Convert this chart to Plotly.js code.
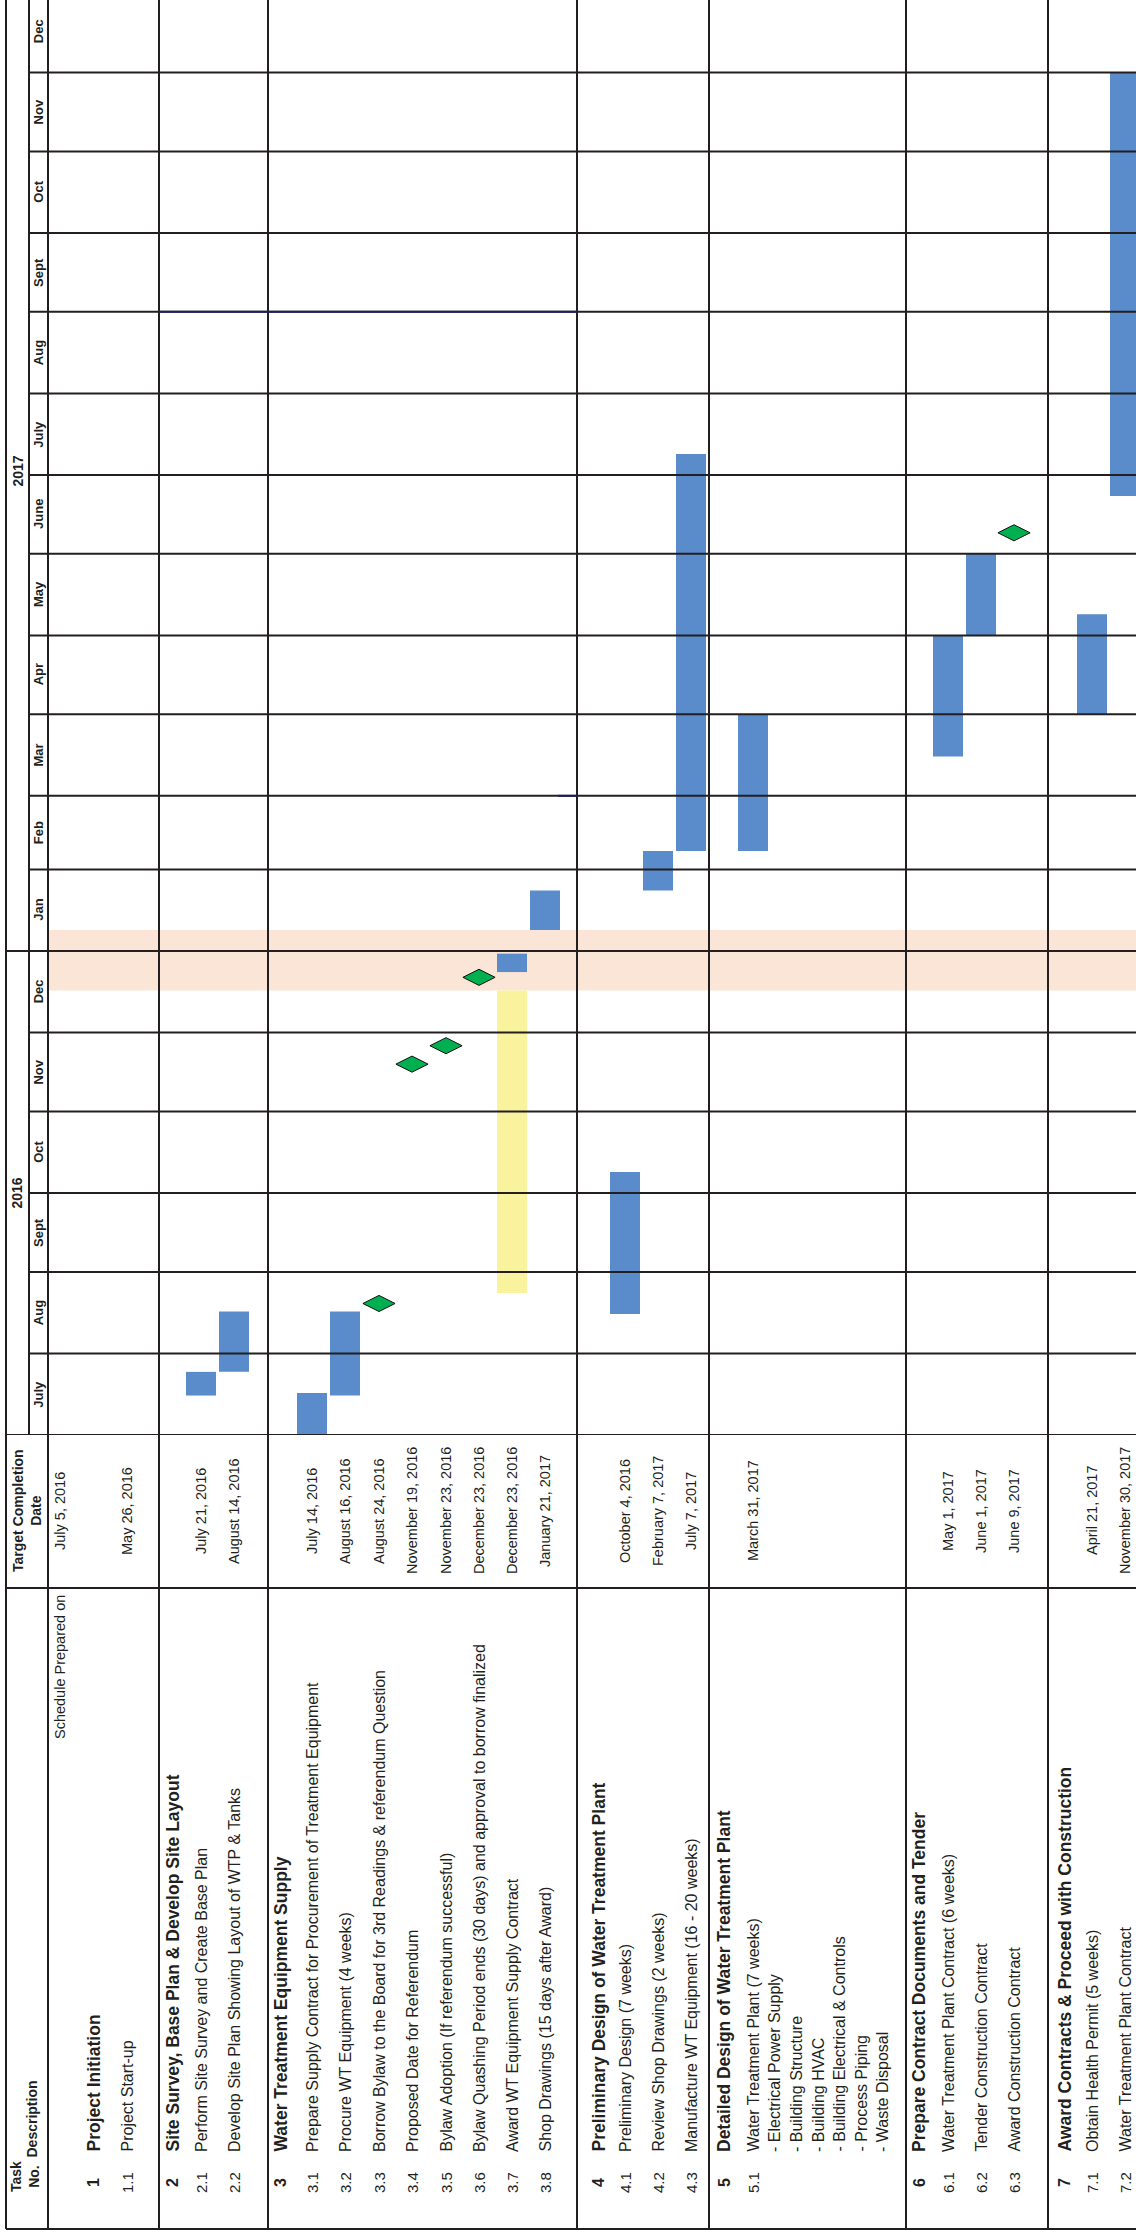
<!DOCTYPE html>
<html>
<head>
<meta charset="utf-8">
<script src="https://cdn.plot.ly/plotly-3.0.1.min.js"></script>
<style>html,body{margin:0;padding:0;background:#fff}#chart{width:1136px;height:2234px}</style>
</head>
<body>
<div id="chart"></div>
<script>
// ================= DATA =================
const yearLabels = ['2016', '2017'];
const yearStarts = ['2016-07-01', '2017-01-01'];
const yearEnds   = ['2017-01-01', '2018-01-01'];

const monthLabels = ['July','Aug','Sept','Oct','Nov','Dec','Jan','Feb','Mar','Apr','May','June','July','Aug','Sept','Oct','Nov','Dec'];
const monthStarts = ['2016-07-01','2016-08-01','2016-09-01','2016-10-01','2016-11-01','2016-12-01',
                     '2017-01-01','2017-02-01','2017-03-01','2017-04-01','2017-05-01','2017-06-01',
                     '2017-07-01','2017-08-01','2017-09-01','2017-10-01','2017-11-01','2017-12-01'];
const monthEnds   = monthStarts.slice(1).concat(['2018-01-01']);

const headerTaskNo = 'Task<br>No.';
const headerDesc = 'Description';
const headerDate = 'Target Completion<br>Date';
const preparedLabel = 'Schedule Prepared on';
const preparedDate = 'July 5, 2016';

const groupNos = ['1','2','3','4','5','6','7'];
const groupTitles = ['Project Initiation',
  'Site Survey, Base Plan & Develop Site Layout',
  'Water Treatment Equipment Supply',
  'Preliminary Design of Water Treatment Plant',
  'Detailed Design of Water Treatment Plant',
  'Prepare Contract Documents and Tender',
  'Award Contracts & Proceed with Construction'];

const taskNos = ['1.1','2.1','2.2','3.1','3.2','3.3','3.4','3.5','3.6','3.7','3.8','4.1','4.2','4.3','5.1','6.1','6.2','6.3','7.1','7.2'];
const taskDescs = ['Project Start-up',
  'Perform Site Survey and Create Base Plan',
  'Develop Site Plan Showing Layout of WTP & Tanks',
  'Prepare Supply Contract for Procurement of Treatment Equipment',
  'Procure WT Equipment (4 weeks)',
  'Borrow Bylaw to the Board for 3rd Readings & referendum Question',
  'Proposed Date for Referendum',
  'Bylaw Adoption (If referendum successful)',
  'Bylaw Quashing Period ends (30 days) and approval to borrow finalized',
  'Award WT Equipment Supply Contract',
  'Shop Drawings (15 days after Award)',
  'Preliminary Design (7 weeks)',
  'Review Shop Drawings (2 weeks)',
  'Manufacture WT Equipment (16 - 20 weeks)',
  'Water Treatment Plant (7 weeks)',
  'Water Treatment Plant Contract (6 weeks)',
  'Tender Construction Contract',
  'Award Construction Contract',
  'Obtain Health Permit (5 weeks)',
  'Water Treatment Plant Contract'];
const targetDates = ['May 26, 2016','July 21, 2016','August 14, 2016','July 14, 2016','August 16, 2016',
  'August 24, 2016','November 19, 2016','November 23, 2016','December 23, 2016','December 23, 2016',
  'January 21, 2017','October 4, 2016','February 7, 2017','July 7, 2017','March 31, 2017',
  'May 1, 2017','June 1, 2017','June 9, 2017','April 21, 2017','November 30, 2017'];
const subTask = '5.1';
const subItems = ['- Electrical Power Supply','- Building Structure','- Building HVAC',
  '- Building Electrical & Controls','- Process Piping','- Waste Disposal'];

// activity bars (blue)
const barTasks = ['2.1','2.2','3.1','3.2','3.7','3.8','4.1','4.2','4.3','5.1','6.1','6.2','7.1','7.2'];
const barStart = ['2016-07-16','2016-07-25','2016-07-01','2016-07-16','2016-12-24','2017-01-09',
                  '2016-08-16','2017-01-24','2017-02-08','2017-02-08','2017-03-16','2017-05-01','2017-04-01','2017-06-23'];
const barEnd   = ['2016-07-25','2016-08-17','2016-07-17','2016-08-17','2016-12-31','2017-01-24',
                  '2016-10-09','2017-02-08','2017-07-09','2017-04-01','2017-05-01','2017-06-01','2017-05-09','2017-12-01'];
// waiting period (yellow)
const waitTasks = ['3.7'];
const waitStart = ['2016-08-24'];
const waitEnd   = ['2016-12-17'];
// milestones (green diamonds)
const msTasks = ['3.3','3.4','3.5','3.6','6.3'];
const msDates = ['2016-08-20','2016-11-19','2016-11-26','2016-12-22','2017-06-09'];
// holiday shading
const holidayStart = ['2016-12-17'];
const holidayEnd   = ['2017-01-09'];

// ================= LAYOUT (positions / styles) =================
const W = 1136, H = 2234;
const FONT = 'Liberation Sans, Arial, Helvetica, sans-serif';
const INK = '#231F20';
const rowX = {
  sched: 60, g1: 93, '1.1': 127,
  g2: 172, '2.1': 201, '2.2': 234,
  g3: 280, '3.1': 312, '3.2': 345, '3.3': 379, '3.4': 412, '3.5': 446, '3.6': 479, '3.7': 512, '3.8': 545,
  g4: 598, '4.1': 625, '4.2': 658, '4.3': 691,
  g5: 724, '5.1': 753,
  g6: 919, '6.1': 948, '6.2': 981, '6.3': 1014,
  g7: 1064, '7.1': 1092, '7.2': 1125
};
const subX = [774, 796, 818, 839, 861, 882];
const groupKeys = ['g1','g2','g3','g4','g5','g6','g7'];
const X_LEFT = 6, X_YEAR = 29, X_HEAD = 48;
const groupSeps = [159, 268, 577, 709, 906, 1048];
const Y_TL = 1435, Y_DATECOL = 1511, Y_DESC_END = 1588, Y_DESC_START = 2154, Y_NO = 2183, Y_BOTTOM = 2229;
const FS_TEXT = 16, FS_BOLD = 17.5, FS_NO = 15, FS_DATE = 14.5, FS_HEAD = 14, FS_MONTH = 13;

const py = p => (H - p) / H;
function toMs(s) { const [y, m, d] = s.split('-').map(Number); return Date.UTC(y, m - 1, d); }
function msStr(ms) { return new Date(ms).toISOString().slice(0, 19).replace('T', ' '); }

// y axis: July 1 2016 at px 1435, Dec 1 2017 at px 72.5
const pxPerMs = (Y_TL - 72.5) / (toMs('2017-12-01') - toMs('2016-07-01'));
const yTop = msStr(toMs('2016-07-01') + Y_TL / pxPerMs);

// ================= TRACES =================
const traces = [
  { type: 'bar', x: waitTasks.map(t => rowX[t]), base: waitStart,
    y: waitStart.map((s, i) => toMs(waitEnd[i]) - toMs(s)), width: 30,
    marker: { color: '#FAF39D', line: { width: 0 } }, hoverinfo: 'skip' },
  { type: 'bar', x: barTasks.map(t => rowX[t]), base: barStart,
    y: barStart.map((s, i) => toMs(barEnd[i]) - toMs(s)), width: 30,
    marker: { color: '#5A8BCB', line: { width: 0 } }, hoverinfo: 'skip' },
  { type: 'scatter', mode: 'markers', x: msTasks.map(t => rowX[t]), y: msDates, cliponaxis: false,
    marker: { symbol: 'diamond-wide', size: 23, color: '#00B050', line: { color: '#111', width: 1 } },
    hoverinfo: 'skip' }
];

// ================= SHAPES =================
const shapes = [];
holidayStart.forEach((s, i) => shapes.push({ type: 'rect', xref: 'x', yref: 'y', x0: X_HEAD, x1: W + 5,
  y0: s, y1: holidayEnd[i], fillcolor: '#FBE5D6', line: { width: 0 }, layer: 'below' }));
const L = (o) => Object.assign({ type: 'line', line: { color: INK, width: 2 }, layer: 'above' }, o);
monthStarts.forEach(d => {
  const x0 = (d === '2016-07-01' || d === '2017-01-01') ? X_LEFT : X_YEAR;
  shapes.push(L({ xref: 'x', yref: 'y', x0: x0, x1: W + 5, y0: d, y1: d }));
});
shapes.push(L({ xref: 'x', yref: 'paper', x0: X_LEFT, x1: W + 5, y0: py(Y_DESC_END), y1: py(Y_DESC_END) }));
shapes.push(L({ xref: 'x', yref: 'paper', x0: X_LEFT, x1: W + 5, y0: py(Y_BOTTOM), y1: py(Y_BOTTOM) }));
shapes.push(L({ xref: 'x', yref: 'paper', x0: X_LEFT, x1: X_LEFT, y0: py(Y_BOTTOM), y1: 1.01 }));
shapes.push(L({ xref: 'x', yref: 'paper', x0: X_YEAR, x1: X_YEAR, y0: py(Y_TL), y1: 1.01 }));
shapes.push(L({ xref: 'x', yref: 'paper', x0: X_HEAD, x1: X_HEAD, y0: py(Y_BOTTOM), y1: 1.01 }));
groupSeps.forEach(x => shapes.push(L({ xref: 'x', yref: 'paper', x0: x, x1: x, y0: py(Y_BOTTOM), y1: 1.01 })));
// navy segments
shapes.push({ type: 'line', xref: 'x', yref: 'y', x0: 159, x1: 577, y0: '2017-09-01', y1: '2017-09-01',
  line: { color: '#1D2060', width: 2 }, layer: 'above' });
shapes.push({ type: 'line', xref: 'x', yref: 'y', x0: 558, x1: 577, y0: '2017-03-01', y1: '2017-03-01',
  line: { color: '#1D2060', width: 2 }, layer: 'above' });

// ================= ANNOTATIONS =================
const ann = [];
function rot(text, x, y, yref, yanchor, size, bold) {
  return { text: bold ? '<b>' + text + '</b>' : text, x: x, xref: 'x', y: y, yref: yref,
    textangle: -90, showarrow: false, xanchor: 'center', yanchor: yanchor,
    font: { family: FONT, size: size, color: INK } };
}
yearLabels.forEach((t, i) => ann.push(rot(t, 17.5, msStr((toMs(yearStarts[i]) + toMs(yearEnds[i])) / 2), 'y', 'middle', 14, true)));
monthLabels.forEach((t, i) => ann.push(rot(t, 38.5, msStr((toMs(monthStarts[i]) + toMs(monthEnds[i])) / 2), 'y', 'middle', FS_MONTH, true)));
ann.push(rot(headerDate, 27, py(Y_DATECOL), 'paper', 'middle', FS_HEAD, true));
ann.push(rot(headerDesc, 31, py(Y_DESC_START + 6), 'paper', 'bottom', FS_HEAD, true));
ann.push(rot(headerTaskNo, 25, py(Y_NO - 6), 'paper', 'middle', FS_HEAD, true));
ann.push(rot(preparedLabel, rowX.sched, py(Y_DESC_END + 5), 'paper', 'top', 14.5, false));
ann.push(rot(preparedDate, rowX.sched, py(Y_DATECOL), 'paper', 'middle', FS_DATE, false));
groupNos.forEach((n, i) => {
  const x = rowX[groupKeys[i]];
  ann.push(rot(n, x, py(Y_NO), 'paper', 'middle', 16, true));
  ann.push(rot(groupTitles[i], x, py(Y_DESC_START), 'paper', 'bottom', FS_BOLD, true));
});
taskNos.forEach((n, i) => {
  const x = rowX[n];
  ann.push(rot(n, x, py(Y_NO), 'paper', 'middle', FS_NO, false));
  ann.push(rot(taskDescs[i], x, py(Y_DESC_START), 'paper', 'bottom', FS_TEXT, false));
  ann.push(rot(targetDates[i], x, py(Y_DATECOL), 'paper', 'middle', FS_DATE, false));
});
subItems.forEach((t, i) => ann.push(rot(t, subX[i], py(Y_DESC_START), 'paper', 'bottom', FS_TEXT, false)));

const layout = {
  width: W, height: H, margin: { l: 0, r: 0, t: 0, b: 0 },
  paper_bgcolor: '#ffffff', plot_bgcolor: 'rgba(0,0,0,0)',
  showlegend: false, barmode: 'overlay',
  xaxis: { range: [0, W], domain: [0, 1], visible: false, fixedrange: true },
  yaxis: { type: 'date', range: ['2016-07-01', yTop], domain: [py(Y_TL), 1], visible: false, fixedrange: true },
  shapes: shapes, annotations: ann
};
Plotly.newPlot('chart', traces, layout, { staticPlot: true, displayModeBar: false });
</script>
</body>
</html>
